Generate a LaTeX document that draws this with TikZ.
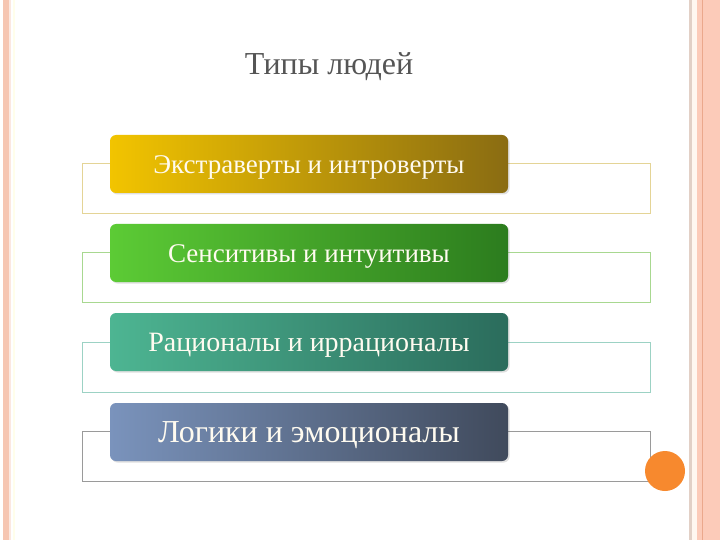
\documentclass[tikz,border=0pt]{standalone}
\usepackage{fontspec}
\setmainfont{Liberation Serif}
\usetikzlibrary{shadows}
\definecolor{salmon}{HTML}{F6C6B2}
\definecolor{salmonR}{HTML}{FCCBB9}
\definecolor{salmonLine}{HTML}{EBA88C}
\definecolor{beigeLine}{HTML}{E2D0C6}
\definecolor{titlegrey}{HTML}{555555}
\definecolor{goldL}{HTML}{F2C400}
\definecolor{goldR}{HTML}{8A6C12}
\definecolor{greenL}{HTML}{5CCB35}
\definecolor{greenR}{HTML}{2C7C1E}
\definecolor{tealL}{HTML}{4DB592}
\definecolor{tealR}{HTML}{2B6C5C}
\definecolor{slateL}{HTML}{7A93BC}
\definecolor{slateR}{HTML}{404A5C}
\definecolor{goldO}{HTML}{E4D496}
\definecolor{greenO}{HTML}{A8D890}
\definecolor{tealO}{HTML}{9CD2C4}
\definecolor{greyO}{HTML}{9A9A9A}
\definecolor{orangeC}{HTML}{F7892E}
\definecolor{textcol}{HTML}{FFFBF0}
\newcommand{\lowr}[1]{\raisebox{-3pt}[\height][\depth]{#1}}
\tikzset{
  bar/.style={minimum width=398pt, minimum height=58pt, rounded corners=6pt,
    text=textcol, font=\fontsize{27}{30}\selectfont, inner sep=0pt,
    drop shadow={shadow xshift=1.5pt, shadow yshift=-1.5pt, opacity=0.25}},
  outl/.style={draw, line width=0.8pt, fill=white, minimum width=568pt, minimum height=50pt, inner sep=0pt}
}
\begin{document}
\begin{tikzpicture}[x=1pt,y=-1pt]
\useasboundingbox (0,0) rectangle (720,540);
\fill[white] (0,0) rectangle (720,540);
% left stripes
\fill[salmon] (3,0) rectangle (9,540);
\fill[salmon!40] (9,0) rectangle (11,540);
\fill[yellow!8] (13,0) rectangle (15,540);
% right stripes
\fill[beigeLine] (689,0) rectangle (692,540);
\fill[orange!6] (692,0) rectangle (697,540);
\fill[salmonR] (697,0) rectangle (720,540);
\fill[salmonLine] (701.5,0) rectangle (702.5,540);
% title
\node[text=titlegrey, font=\fontsize{32}{36}\selectfont] (title) at (329,67) {Типы людей};
% outlines
\node[outl, draw=goldO] (o1) at (366,188) {};
\node[outl, draw=greenO] (o2) at (366,277.5) {};
\node[outl, draw=tealO] (o3) at (366,367) {};
\node[outl, draw=greyO] (o4) at (366,456) {};
% bars
\node[bar, left color=goldL, right color=goldR] (b1) at (309,164) {\lowr{Экстраверты и интроверты}};
\node[bar, left color=greenL, right color=greenR] (b2) at (309,253) {\lowr{Сенситивы и интуитивы}};
\node[bar, left color=tealL, right color=tealR, font=\fontsize{28}{30}\selectfont] (b3) at (309,342) {\lowr{Рационалы и иррационалы}};
\node[bar, left color=slateL, right color=slateR, font=\fontsize{32}{34}\selectfont] (b4) at (309,432) {\lowr{Логики и эмоционалы}};
% orange circle
\node[circle, fill=orangeC, minimum size=40pt, inner sep=0pt] (dot) at (665,471) {};
\end{tikzpicture}
\end{document}
